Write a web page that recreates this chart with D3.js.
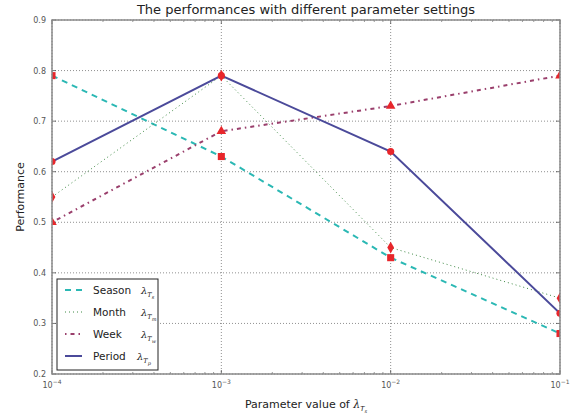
<!DOCTYPE html>
<html>
<head>
<meta charset="utf-8">
<script src="https://cdn.jsdelivr.net/npm/d3@7"></script>
<style>
  body { margin: 0; background: #fff; }
  svg { font-family: "DejaVu Sans", sans-serif; }
</style>
</head>
<body>
<div id="chart"></div>
<script>
// parameter values (x) and performance per setting
const params = [1e-4, 1e-3, 1e-2, 1e-1];
const season = [0.79, 0.63, 0.43, 0.28];
const month  = [0.55, 0.79, 0.45, 0.35];
const week   = [0.50, 0.68, 0.73, 0.79];
const period = [0.62, 0.79, 0.64, 0.32];
const yTicks = [0.2, 0.3, 0.4, 0.5, 0.6, 0.7, 0.8, 0.9];
const xTickExp = [-4, -3, -2, -1];

const W = 579, H = 418;
const margin = {top: 20, right: 19, bottom: 44, left: 52};
const iw = W - margin.left - margin.right;
const ih = H - margin.top - margin.bottom;

const svg = d3.select("#chart").append("svg")
    .attr("width", W).attr("height", H);

svg.append("defs").append("clipPath").attr("id", "plotclip")
  .append("rect").attr("width", iw).attr("height", ih);

const x = d3.scaleLog().domain([1e-4, 1e-1]).range([0, iw]);
const y = d3.scaleLinear().domain([0.2, 0.9]).range([ih, 0]);

const g = svg.append("g").attr("transform", `translate(${margin.left},${margin.top})`);

// grid
g.selectAll(".gx").data(params).join("line")
    .attr("x1", d => x(d)).attr("x2", d => x(d))
    .attr("y1", 0).attr("y2", ih)
    .attr("stroke", "#444").attr("stroke-width", 0.6).attr("stroke-dasharray", "1,2");
g.selectAll(".gy").data(yTicks).join("line")
    .attr("x1", 0).attr("x2", iw)
    .attr("y1", d => y(d)).attr("y2", d => y(d))
    .attr("stroke", "#444").attr("stroke-width", 0.6).attr("stroke-dasharray", "1,2");

// minor ticks for log axis
const minors = [];
for (let e = -4; e < -1; e++) for (let m = 2; m <= 9; m++) minors.push(m * Math.pow(10, e));
[0, ih].forEach(yy => {
  const dir = yy === 0 ? 1 : -1;
  g.selectAll(null).data(minors).join("line")
      .attr("x1", d => x(d)).attr("x2", d => x(d))
      .attr("y1", yy).attr("y2", yy + dir * 2)
      .attr("stroke", "#555").attr("stroke-width", 0.6);
  g.selectAll(null).data(params).join("line")
      .attr("x1", d => x(d)).attr("x2", d => x(d))
      .attr("y1", yy).attr("y2", yy + dir * 4)
      .attr("stroke", "#555").attr("stroke-width", 0.8);
});
[0, iw].forEach(xx => {
  const dir = xx === 0 ? 1 : -1;
  g.selectAll(null).data(yTicks).join("line")
      .attr("x1", xx).attr("x2", xx + dir * 4)
      .attr("y1", d => y(d)).attr("y2", d => y(d))
      .attr("stroke", "#555").attr("stroke-width", 0.8);
});

// tick labels
g.selectAll(".yl").data(yTicks).join("text")
    .attr("x", -6).attr("y", d => y(d) + 3)
    .attr("text-anchor", "end")
    .attr("font-size", 8).attr("fill", "#555")
    .text(d => d.toFixed(1));
const xl = g.selectAll(".xl").data(xTickExp).join("text")
    .attr("x", d => x(Math.pow(10, d))).attr("y", ih + 14)
    .attr("text-anchor", "middle")
    .attr("font-size", 8).attr("fill", "#555");
xl.append("tspan").text("10");
xl.append("tspan").attr("dy", -4).attr("font-size", 6).text(d => "\u2212" + Math.abs(d));

// series
const series = [
  {name: "Season", sub: "s", values: season, color: "#2bb8b4", width: 2, dash: "6,5", marker: "square"},
  {name: "Month",  sub: "m", values: month,  color: "#3f8a45", width: 1, dash: "1,3", marker: "diamond"},
  {name: "Week",   sub: "w", values: week,   color: "#9a3f6c", width: 2, dash: "1.5,4,4,4", marker: "triangle"},
  {name: "Period", sub: "p", values: period, color: "#4b4a9a", width: 2, dash: null, marker: "circle"}
];
const line = d3.line().x((d, i) => x(params[i])).y(d => y(d));
const symbols = {square: d3.symbolSquare, diamond: d3.symbolDiamond, triangle: d3.symbolTriangle, circle: d3.symbolCircle};

const plot = g.append("g").attr("clip-path", "url(#plotclip)");
series.forEach(s => {
  plot.append("path").datum(s.values)
      .attr("d", line)
      .attr("fill", "none")
      .attr("stroke", s.color)
      .attr("stroke-width", s.width)
      .attr("stroke-dasharray", s.dash);
});
series.forEach(s => {
  plot.selectAll(null).data(s.values).join("path")
      .attr("transform", (d, i) => `translate(${x(params[i])},${y(d)})`)
      .attr("d", d3.symbol().type(symbols[s.marker]).size(s.marker === "square" ? 50 : 40))
      .attr("fill", "#e8262b").attr("stroke", "none");
});

// frame
g.append("rect").attr("width", iw).attr("height", ih)
    .attr("fill", "none").attr("stroke", "#8a8a8a").attr("stroke-width", 1.5);

// legend
const lg = g.append("g").attr("transform", `translate(5,${ih - 95})`);
lg.append("rect").attr("width", 101).attr("height", 91)
    .attr("fill", "#fff").attr("stroke", "#222").attr("stroke-width", 1);
series.forEach((s, i) => {
  const yy = 11 + i * 22;
  lg.append("line").attr("x1", 8).attr("x2", 25).attr("y1", yy).attr("y2", yy)
      .attr("stroke", s.color).attr("stroke-width", s.width).attr("stroke-dasharray", s.dash);
  lg.append("text").attr("x", 36).attr("y", yy + 4)
      .attr("font-size", 10.5).attr("fill", "#222").text(s.name);
  const t = lg.append("text").attr("x", i === 3 ? 80 : 84).attr("y", yy + 4)
      .attr("font-size", 10).attr("fill", "#222").attr("font-family", "DejaVu Serif, serif").attr("font-style", "italic");
  t.append("tspan").text("\u03bb");
  t.append("tspan").attr("dy", 3).attr("font-size", 6.5).text("T");
  t.append("tspan").attr("dy", 2).attr("font-size", 5).text(s.sub);
});

// titles
svg.append("text").attr("x", margin.left + iw / 2).attr("y", 14)
    .attr("text-anchor", "middle").attr("font-size", 13).attr("fill", "#222")
    .text("The performances with different parameter settings");
svg.append("text")
    .attr("transform", `translate(24,${margin.top + ih / 2}) rotate(-90)`)
    .attr("text-anchor", "middle").attr("font-size", 11).attr("fill", "#222")
    .text("Performance");
const xt = svg.append("text").attr("x", margin.left + iw / 2).attr("y", 408)
    .attr("text-anchor", "middle").attr("font-size", 11).attr("fill", "#222");
xt.append("tspan").text("Parameter value of ");
xt.append("tspan").attr("font-family", "DejaVu Serif, serif").attr("font-style", "italic").text("\u03bb");
xt.append("tspan").attr("dy", 3).attr("font-size", 7).attr("font-style", "italic").text("T");
xt.append("tspan").attr("dy", 2).attr("font-size", 5).attr("font-style", "italic").text("s");
</script>
</body>
</html>
